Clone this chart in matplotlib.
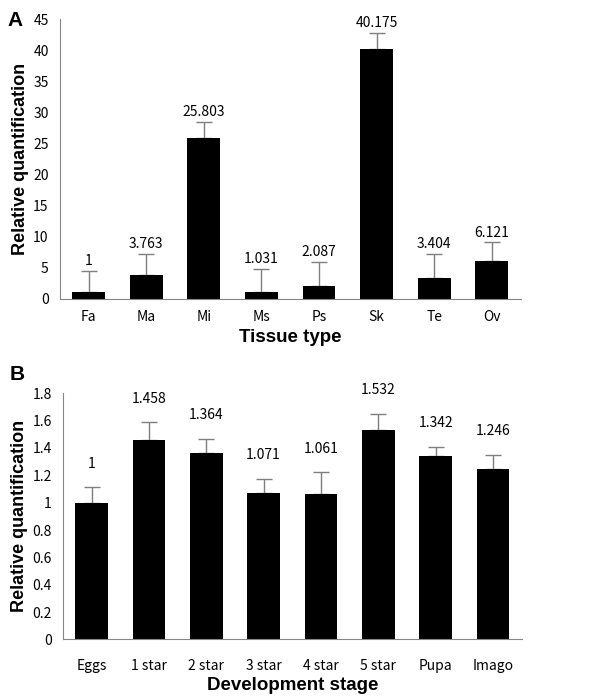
import matplotlib
matplotlib.use("Agg")
import matplotlib.pyplot as plt

# --- Data ---
tissues = ["Fa", "Ma", "Mi", "Ms", "Ps", "Sk", "Te", "Ov"]
tissue_values = [1, 3.763, 25.803, 1.031, 2.087, 40.175, 3.404, 6.121]
tissue_err = [3.5, 3.43, 2.63, 3.75, 3.77, 2.62, 3.79, 2.95]

stages = ["Eggs", "1 star", "2 star", "3 star", "4 star", "5 star", "Pupa", "Imago"]
stage_values = [1, 1.458, 1.364, 1.071, 1.061, 1.532, 1.342, 1.246]
stage_err = [0.112, 0.129, 0.103, 0.102, 0.161, 0.116, 0.067, 0.102]

# --- Style ---
TICK_FONT = ["Noto Sans CJK KR", "DejaVu Sans"]
LABEL_FONT = "Liberation Sans"
SPINE_COLOR = "#868686"
ERR_COLOR = "#7f7f7f"


def draw_panel(ax, cats, vals, errs, ylim, yticks, xlabel, label_off, tick_pad, xlabel_pad):
    x = range(len(cats))
    ax.bar(x, vals, width=0.57, color="black", zorder=2)
    ax.errorbar(x, vals, yerr=[[0] * len(errs), errs], fmt="none",
                ecolor=ERR_COLOR, elinewidth=1.0, capsize=6, capthick=1.0, zorder=1)
    for xi, v, e in zip(x, vals, errs):
        ax.annotate(f"{v:g}", (xi, v + e), xytext=(0, label_off),
                    textcoords="offset points", ha="center", va="bottom",
                    fontsize=10, family=TICK_FONT)

    ax.set_xlim(-0.5, len(cats) - 0.5)
    ax.set_ylim(*ylim)
    ax.set_yticks(yticks)
    ax.set_yticklabels([f"{t:g}" for t in yticks], family=TICK_FONT, fontsize=10)
    ax.set_xticks(list(x))
    ax.set_xticklabels(cats, family=TICK_FONT, fontsize=10)
    ax.tick_params(axis="both", length=0)
    ax.tick_params(axis="x", pad=tick_pad)
    ax.tick_params(axis="y", pad=8)

    for side in ["top", "right"]:
        ax.spines[side].set_visible(False)
    for side in ["left", "bottom"]:
        ax.spines[side].set_color(SPINE_COLOR)
        ax.spines[side].set_linewidth(0.8)

    ax.set_ylabel("Relative quantification", fontsize=13, fontweight="bold",
                  family=LABEL_FONT, labelpad=3)
    ax.set_xlabel(xlabel, fontsize=13.5, fontweight="bold", family=LABEL_FONT,
                  labelpad=xlabel_pad)


fig = plt.figure(figsize=(6.16, 6.97), dpi=100)

ax_a = fig.add_axes([0.097, 0.5715, 0.748, 0.4012])
draw_panel(ax_a, tissues, tissue_values, tissue_err, (0, 45),
           list(range(0, 46, 5)), "Tissue type", 2, 8, 4)

ax_b = fig.add_axes([0.102, 0.0827, 0.745, 0.353])
draw_panel(ax_b, stages, stage_values, stage_err, (0, 1.8),
           [i / 5 for i in range(10)], "Development stage", 12, 14, 3)

fig.text(0.012, 0.97, "A", fontsize=15, fontweight="bold", family=LABEL_FONT, va="center")
fig.text(0.016, 0.462, "B", fontsize=15, fontweight="bold", family=LABEL_FONT, va="center")

fig.savefig("out.png", dpi=100)
